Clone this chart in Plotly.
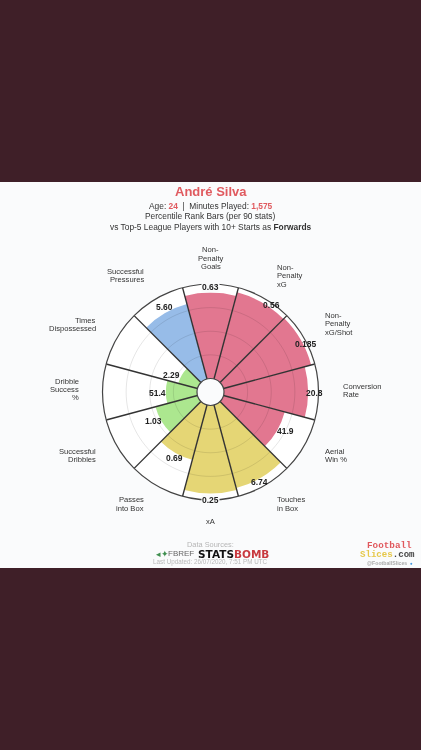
import plotly.graph_objects as go

W, H = 421, 750
categories = ["Non-Penalty Goals", "Non-Penalty xG", "Non-Penalty xG/Shot", "Conversion Rate",
              "Aerial Win %", "Touches in Box", "xA", "Passes into Box", "Successful Dribbles",
              "Dribble Success %", "Times Dispossessed", "Successful Pressures"]
percentiles = [91, 95, 96, 89, 67, 91, 93, 60, 46, 33, 21, 82]
value_labels = ["0.63", "0.56", "0.185", "20.8", "41.9", "6.74", "0.25", "0.69", "1.03", "51.4", "2.29", "5.60"]
RED, YELLOW, GREEN, BLUE = "#e27790", "#e5d675", "#ace78f", "#97bce8"
colors = [RED]*5 + [YELLOW]*3 + [GREEN]*3 + [BLUE]
angles = [i*30 for i in range(12)]
spoke_angles = [15 + i*30 for i in range(12)]
ring_values = [25, 50, 75]

CX, CY, R = 210.5, 392.0, 108.0
TXT = "#333333"
FONT = "Liberation Sans"
PAPER = "#fafbfc"

def px(x): return x / W
def py(y): return 1 - y / H

fig = go.Figure()
fig.add_trace(go.Barpolar(r=percentiles, theta=angles, width=[30]*12,
                          marker=dict(color=colors, line=dict(width=0)), hoverinfo="skip"))
ring_theta = list(range(0, 361, 3))
for v in ring_values:
    fig.add_trace(go.Scatterpolar(r=[v]*len(ring_theta), theta=ring_theta, mode="lines",
                                  line=dict(color="rgba(0,0,0,0.10)", width=1), hoverinfo="skip"))
for a in spoke_angles:
    fig.add_trace(go.Scatterpolar(r=[0, 100], theta=[a, a], mode="lines",
                                  line=dict(color="#333333", width=1.4), hoverinfo="skip"))

anns = []
def T(x, y, s, size=7.6, color=TXT, xa="center", family=FONT, bg=None):
    a = dict(xref="paper", yref="paper", x=px(x), y=py(y), text=s, showarrow=False,
             xanchor=xa, yanchor="middle", font=dict(family=family, size=size, color=color),
             borderpad=0)
    if bg:
        a["bgcolor"] = bg
    anns.append(a)

T(210.5, 191.5, "<b>André Silva</b>", 13, "#e05a5f")
T(210.5, 206, 'Age: <span style="color:#e05a5f"><b>24</b></span>  |  Minutes Played: <span style="color:#e05a5f"><b>1,575</b></span>', 8.4)
T(210.5, 216.3, "Percentile Rank Bars (per 90 stats)", 8.4)
T(210.5, 226.7, "vs Top-5 League Players with 10+ Starts as <b>Forwards</b>", 8.4)

label_lines = [
    (210.5, "center", [(250, "Non-"), (258.3, "Penalty"), (266.7, "Goals")]),
    (276, "left", [(267.3, "Non-"), (275.7, "Penalty"), (284, "xG")]),
    (324.3, "left", [(315.7, "Non-"), (324, "Penalty"), (332.3, "xG/Shot")]),
    (341.7, "left", [(386, "Conversion"), (394.5, "Rate")]),
    (324.3, "left", [(451.7, "Aerial"), (460, "Win %")]),
    (276, "left", [(499.3, "Touches"), (508, "in Box")]),
    (210.5, "center", [(521, "xA")]),
    (145, "right", [(499.3, "Passes"), (508, "into Box")]),
    (97, "right", [(451.7, "Successful"), (460, "Dribbles")]),
    (79.5, "right", [(381, "Dribble"), (389.5, "Success"), (398, "%")]),
    (97, "right", [(320, "Times"), (328.5, "Dispossessed")]),
    (145, "right", [(271.7, "Successful"), (280, "Pressures")]),
]
for x, xa, lines in label_lines:
    for y, s in lines:
        T(x, y, s, 7.6, xa=xa)

vals = [(210.5, 287), (271, 305), (305.5, 343.5), (314.5, 392.5), (285.5, 431), (259.5, 482),
        (210, 499.5), (174, 458.5), (153.5, 420.5), (157, 393), (171.5, 375), (164, 307.5)]
rim = {"0.63", "0.25"}
for (x, y), s in zip(vals, value_labels):
    T(x, y, f"<b>{s}</b>", 8.5, "#222222", bg=PAPER if s in rim else None)

T(210.5, 544, "Data Sources:", 7.4, "#b5b5b5")
T(155, 553.5, "◂✦", 9, "#3f8f4f", xa="left")
T(167, 553.5, "FBREF", 8, "#666666", xa="left")
T(197, 553.5, '<b>STATS<span style="color:#c8393f">BOMB</span></b>', 10.5, "#111111", xa="left", family="DejaVu Sans")
T(210.5, 562.3, "Last Updated: 26/07/2020, 7:51 PM UTC", 6.3, "#b8b8b8")
T(389.5, 545.3, "<b>Football</b>", 9.3, "#e0575c", family="Liberation Mono")
T(387, 554, '<b><span style="color:#e6c84a">Slices</span><span style="color:#444444">.com</span></b>', 9.1, family="Liberation Mono")
T(387, 563, "<b>@FootballSlices</b>", 5.2, "#aaaaaa")
T(411.5, 563, "●", 4.5, "#3f97e0")

fig.update_layout(
    width=W, height=H, autosize=False, margin=dict(l=0, r=0, t=0, b=0), showlegend=False,
    paper_bgcolor="#3f1f28", plot_bgcolor=PAPER,
    shapes=[dict(type="rect", xref="paper", yref="paper", x0=0, x1=1, y0=py(568), y1=py(182),
                 fillcolor=PAPER, line=dict(width=0), layer="below")],
    annotations=anns,
    polar=dict(
        domain=dict(x=[px(CX-R), px(CX+R)], y=[py(CY+R), py(CY-R)]),
        bgcolor="#ffffff", hole=0.125,
        radialaxis=dict(range=[0, 100], showticklabels=False, ticks="", showgrid=False, showline=False),
        angularaxis=dict(rotation=90, direction="clockwise", tickvals=spoke_angles,
                         showticklabels=False, ticks="", showgrid=False,
                         showline=True, linecolor="#444444", linewidth=1.2),
    ),
)
fig.write_html("out.html", config=dict(displayModeBar=False),
               post_script="document.body.style.margin='0';document.body.style.background='#3f1f28';document.body.style.overflow='hidden';gd=document.querySelector('.plotly-graph-div');gd.style.filter='blur(0.5px)';")
